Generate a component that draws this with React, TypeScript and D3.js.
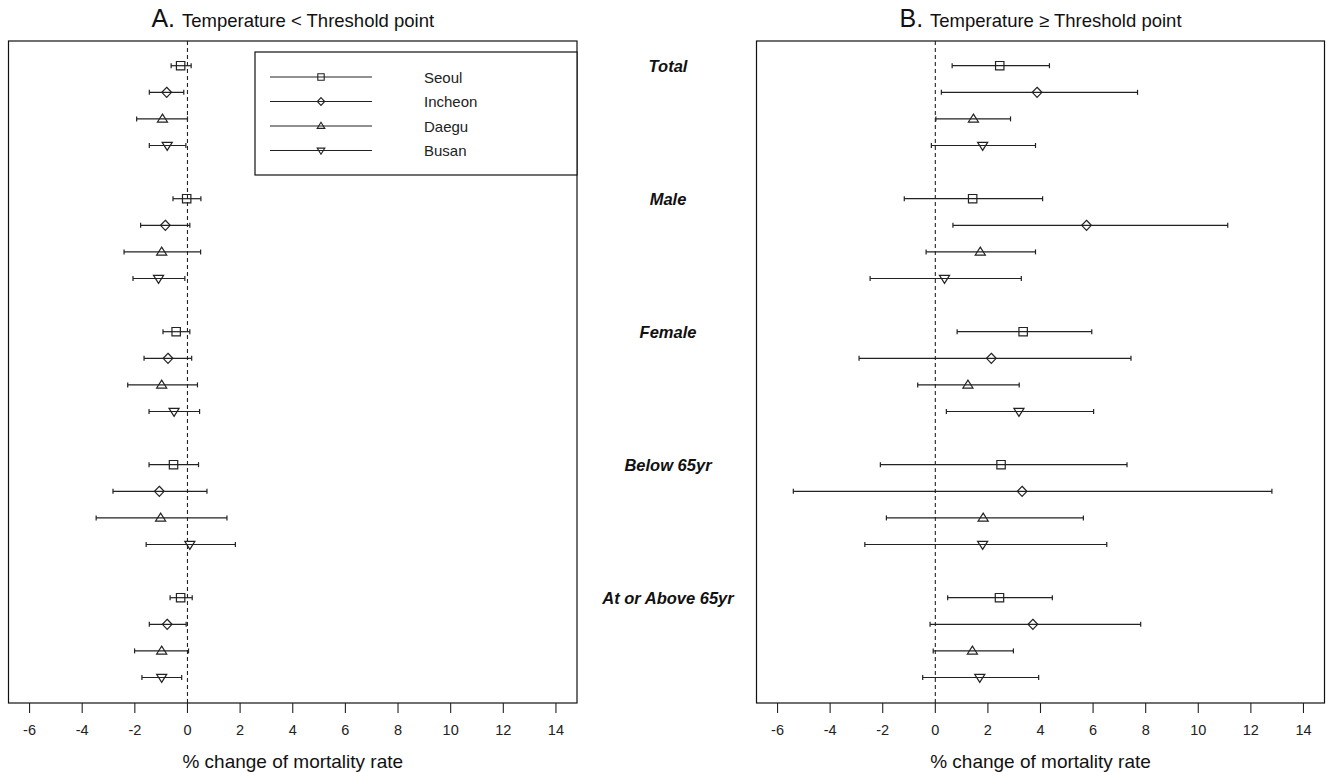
import React from 'react';
import * as d3 from 'd3';

// subgroups (5) x cities (4), estimates and 95% CI
const groups = ['Total', 'Male', 'Female', 'Below 65yr', 'At or Above 65yr'];
const cities = ['Seoul', 'Incheon', 'Daegu', 'Busan'];
const xTicks = [-6, -4, -2, 0, 2, 4, 6, 8, 10, 12, 14];

// A. temperature below threshold
const lowEst = [-0.26, -0.79, -0.95, -0.77, -0.03, -0.84, -0.98, -1.1, -0.43, -0.74, -0.98, -0.51, -0.53, -1.07, -1.02, 0.09, -0.26, -0.77, -0.98, -0.98];
const lowLo = [-0.62, -1.45, -1.93, -1.45, -0.55, -1.78, -2.41, -2.07, -0.93, -1.65, -2.27, -1.46, -1.46, -2.83, -3.47, -1.57, -0.66, -1.45, -2.01, -1.73];
const lowHi = [0.14, -0.14, 0.0, -0.06, 0.51, 0.09, 0.5, -0.1, 0.09, 0.16, 0.38, 0.46, 0.42, 0.74, 1.5, 1.82, 0.18, -0.05, 0.04, -0.22];

// B. temperature at or above threshold
const highEst = [2.45, 3.87, 1.45, 1.8, 1.42, 5.75, 1.71, 0.35, 3.34, 2.13, 1.24, 3.18, 2.5, 3.3, 1.82, 1.8, 2.44, 3.71, 1.41, 1.69];
const highLo = [0.64, 0.23, 0.02, -0.15, -1.18, 0.67, -0.35, -2.48, 0.83, -2.9, -0.67, 0.42, -2.09, -5.4, -1.86, -2.68, 0.47, -0.2, -0.08, -0.48];
const highHi = [4.34, 7.69, 2.86, 3.81, 4.08, 11.12, 3.81, 3.27, 5.95, 7.44, 3.19, 6.02, 7.29, 12.8, 5.63, 6.52, 4.45, 7.81, 2.97, 3.93];

const W = 1326, H = 772;
const top = 41, bottom = 703;
const ink = '#222';
const font = 'Liberation Sans, Arial, sans-serif';

const y = d3.scaleLinear().domain([1, 24]).range([65.7, 677.5]);
const rowOf = (i: number) => Math.floor(i / 4) * 5 + (i % 4) + 1;

function marker(kind: number, cx: number, cy: number, s: number) {
  const line = d3.line();
  let pts: [number, number][];
  if (kind === 0) pts = [[-s, -s], [s, -s], [s, s], [-s, s]];
  else if (kind === 1) pts = [[0, -s * 1.2], [s * 1.15, 0], [0, s * 1.2], [-s * 1.15, 0]];
  else if (kind === 2) pts = [[0, -s * 1.15], [s * 1.2, s * 0.75], [-s * 1.2, s * 0.75]];
  else pts = [[0, s * 1.15], [s * 1.2, -s * 0.75], [-s * 1.2, -s * 0.75]];
  return line(pts.map(p => [cx + p[0], cy + p[1]]))! + 'Z';
}

function Panel({ x0, x1, est, lo, hi, letter, sign, legend }: any) {
  const x = d3.scaleLinear().domain([-6.8, 14.8]).range([x0, x1]);
  const mid = (x0 + x1) / 2;
  return (
    <g>
      <text x={mid} y={27} textAnchor="middle" fontFamily={font} fill="#111">
        <tspan fontSize={25}>{letter}. </tspan>
        <tspan fontSize={18.5}>{`Temperature ${sign} Threshold point`}</tspan>
      </text>
      <rect x={x0} y={top} width={x1 - x0} height={bottom - top} fill="none" stroke="#111" strokeWidth={1.2} />
      <line x1={x(0)} x2={x(0)} y1={top} y2={bottom} stroke={ink} strokeWidth={1.1} strokeDasharray="4,3" />
      {est.map((v: number, i: number) => {
        const cy = y(rowOf(i));
        return (
          <g key={i} stroke={ink} strokeWidth={1.2} fill="none">
            <line x1={x(lo[i])} x2={x(hi[i])} y1={cy} y2={cy} />
            <line x1={x(lo[i])} x2={x(lo[i])} y1={cy - 2.5} y2={cy + 2.5} />
            <line x1={x(hi[i])} x2={x(hi[i])} y1={cy - 2.5} y2={cy + 2.5} />
            <path d={marker(i % 4, x(v), cy, 4.2)} />
          </g>
        );
      })}
      {xTicks.map(t => (
        <g key={t}>
          <line x1={x(t)} x2={x(t)} y1={bottom} y2={bottom + 10} stroke={ink} strokeWidth={1.1} />
          <text x={x(t)} y={bottom + 32} textAnchor="middle" fontSize={14.5} fontFamily={font} fill="#222">{t}</text>
        </g>
      ))}
      <text x={mid} y={768} textAnchor="middle" fontSize={19} fontFamily={font} fill="#111">% change of mortality rate</text>
      {legend && (
        <g>
          <rect x={255} y={52} width={x1 - 255} height={123} fill="white" stroke="#111" strokeWidth={1.2} />
          {cities.map((c, k) => {
            const ly = 77 + k * 24.5;
            return (
              <g key={c}>
                <line x1={270} x2={372} y1={ly} y2={ly} stroke={ink} strokeWidth={1.2} />
                <path d={marker(k, 321, ly, 3.2)} fill="none" stroke={ink} strokeWidth={1.1} />
                <text x={424} y={ly + 5.5} fontSize={15} fontFamily={font} fill="#222">{c}</text>
              </g>
            );
          })}
        </g>
      )}
    </g>
  );
}

export default function App() {
  return (
    <svg width={W} height={H} style={{ position: 'absolute', left: 0, top: 0, background: 'white' }}>
      <Panel x0={8.5} x1={577} est={lowEst} lo={lowLo} hi={lowHi} letter="A" sign="<" legend />
      <Panel x0={756.5} x1={1324.5} est={highEst} lo={highLo} hi={highHi} letter="B" sign="≥" />
      {groups.map((g, k) => (
        <text key={g} x={668} y={y(k * 5 + 1) + 6} textAnchor="middle" fontSize={16.5} fontWeight="bold" fontStyle="italic" fontFamily={font} fill="#111">{g}</text>
      ))}
    </svg>
  );
}
